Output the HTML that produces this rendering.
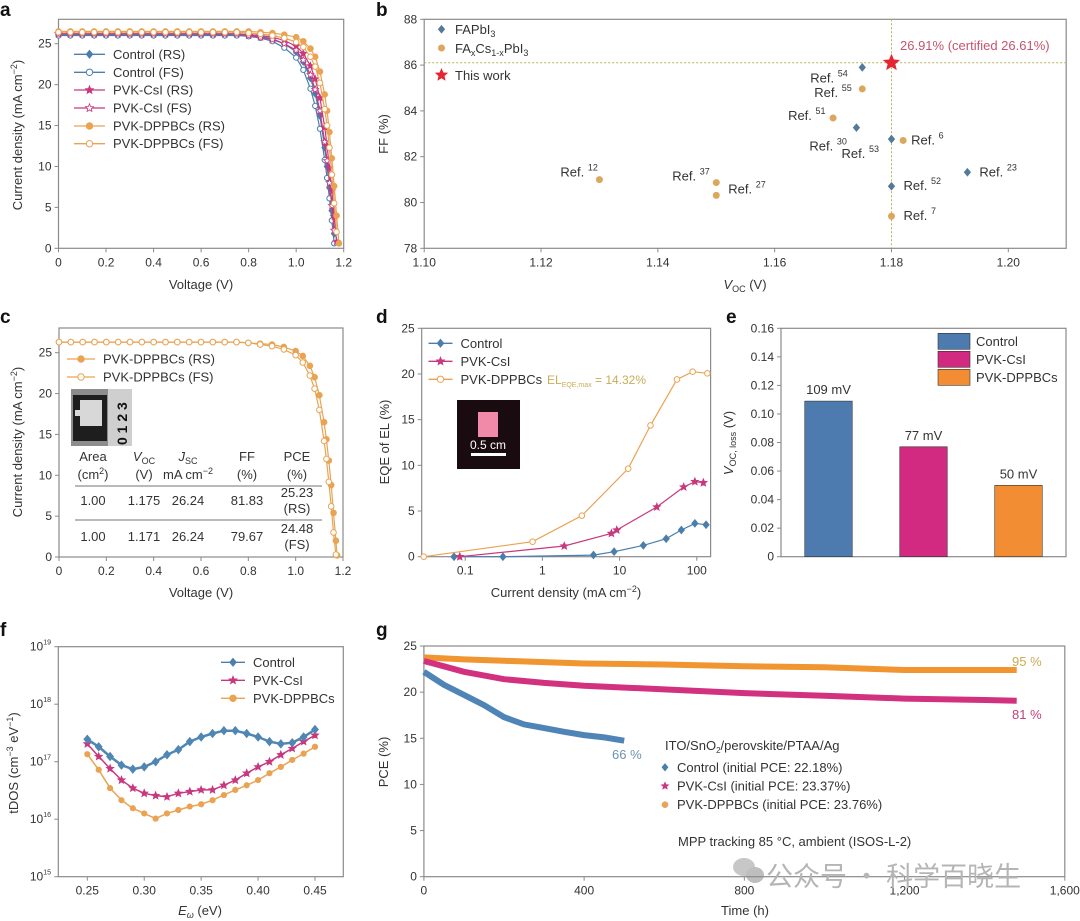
<!DOCTYPE html>
<html><head><meta charset="utf-8">
<style>
html,body{margin:0;padding:0;background:#fff;}
svg{display:block;font-family:"Liberation Sans","Noto Sans CJK SC",sans-serif;}
</style></head>
<body>
<svg id="fig" width="1080" height="921" viewBox="0 0 1080 921" xmlns="http://www.w3.org/2000/svg">
<rect width="1080" height="921" fill="#fff"/>
<g font-weight="bold" font-size="19" fill="#111">
<text x="0" y="16">a</text>
<text x="376" y="16">b</text>
<text x="0" y="323">c</text>
<text x="376" y="323">d</text>
<text x="726" y="323">e</text>
<text x="0" y="636">f</text>
<text x="376" y="636">g</text>
</g>
<g font-size="13" fill="#333">
<text transform="translate(22,135) rotate(-90)" text-anchor="middle">Current density (mA cm<tspan dy="-5" font-size="9">−2</tspan><tspan dy="5">)</tspan></text>
<text x="201" y="289" text-anchor="middle">Voltage (V)</text>
<text transform="translate(388,134) rotate(-90)" text-anchor="middle">FF (%)</text>
<text x="745" y="289" text-anchor="middle"><tspan font-style="italic">V</tspan><tspan font-size="9" dy="3">OC</tspan><tspan dy="-3"> (V)</tspan></text>
<text transform="translate(22,442) rotate(-90)" text-anchor="middle">Current density (mA cm<tspan dy="-5" font-size="9">−2</tspan><tspan dy="5">)</tspan></text>
<text x="201" y="597" text-anchor="middle">Voltage (V)</text>
<text transform="translate(389,442) rotate(-90)" text-anchor="middle">EQE of EL (%)</text>
<text x="566" y="597" text-anchor="middle">Current density (mA cm<tspan dy="-5" font-size="9">−2</tspan><tspan dy="5">)</tspan></text>
<text transform="translate(733,443) rotate(-90)" text-anchor="middle"><tspan font-style="italic">V</tspan><tspan font-size="9" dy="3">OC, loss</tspan><tspan dy="-3"> (V)</tspan></text>
<text transform="translate(18,763) rotate(-90)" text-anchor="middle">tDOS (cm<tspan dy="-5" font-size="9">−3</tspan><tspan dy="5"> eV</tspan><tspan dy="-5" font-size="9">−1</tspan><tspan dy="5">)</tspan></text>
<text x="200" y="915" text-anchor="middle"><tspan font-style="italic">E</tspan><tspan font-size="9" dy="3" font-style="italic">ω</tspan><tspan dy="-3"> (eV)</tspan></text>
<text transform="translate(388,762) rotate(-90)" text-anchor="middle">PCE (%)</text>
<text x="745" y="915" text-anchor="middle">Time (h)</text>
</g>
</svg>
<script>
// ---------- Panel a data ----------
const jvVolt=[0,0.05,0.1,0.15,0.2,0.25,0.3,0.35,0.4,0.45,0.5,0.55,0.6,0.65,0.7,0.75,0.8,0.85,0.9,0.95,1.0,1.03,1.06,1.08,1.10,1.12,1.13,1.14,1.15,1.16,1.17,1.18];
const ctrlRS=[26.1,26.1,26.1,26.1,26.1,26.1,26.1,26.1,26.1,26.1,26.1,26.1,26.1,26.1,26.1,26.1,26.0,25.9,25.6,25.0,24.0,22.8,20.8,18.9,16.2,12.3,10.0,7.4,4.6,1.8,null,null];
const ctrlFS=[26.0,26.0,26.0,26.0,26.0,26.0,26.0,26.0,26.0,26.0,26.0,26.0,26.0,26.0,26.0,26.0,25.9,25.7,25.3,24.5,23.3,21.8,19.5,17.4,14.6,10.8,8.6,6.1,3.4,0.6,null,null];
const csiRS=[26.2,26.2,26.2,26.2,26.2,26.2,26.2,26.2,26.2,26.2,26.2,26.2,26.2,26.2,26.2,26.2,26.1,26.0,25.8,25.4,24.7,23.8,22.3,20.7,18.4,14.8,12.5,9.8,7.0,3.9,0.8,null];
const csiFS=[26.2,26.2,26.2,26.2,26.2,26.2,26.2,26.2,26.2,26.2,26.2,26.2,26.2,26.2,26.2,26.2,26.0,25.8,25.5,25.0,24.2,23.0,21.2,19.4,16.8,13.0,10.7,8.0,5.2,2.2,null,null];
const dppRS=[26.5,26.5,26.5,26.5,26.5,26.5,26.5,26.5,26.5,26.5,26.5,26.5,26.5,26.5,26.5,26.5,26.5,26.4,26.3,26.1,25.8,25.3,24.4,23.4,21.6,18.8,16.8,14.2,11.0,7.6,4.0,0.6];
const dppFS=[26.4,26.4,26.4,26.4,26.4,26.4,26.4,26.4,26.4,26.4,26.4,26.4,26.4,26.4,26.4,26.4,26.3,26.2,26.0,25.7,25.2,24.6,23.4,22.2,20.2,17.0,15.0,12.3,9.0,5.5,2.0,null];
const aXTicks=[0,0.2,0.4,0.6,0.8,1.0,1.2];
const aXLabels=["0","0.2","0.4","0.6","0.8","1.0","1.2"];
const aYTicks=[0,5,10,15,20,25];
// ---------- Panel b data ----------
const refLabels=["54","55","51","30","53","6","23","52","7","12","37","27"];
const refVoc=[1.175,1.175,1.170,1.174,1.180,1.182,1.193,1.180,1.180,1.130,1.150,1.150];
const refFF=[85.90,84.96,83.69,83.27,82.77,82.71,81.32,80.71,79.40,81.00,80.87,80.31];
const refType=["FA","FACs","FACs","FA","FA","FACs","FA","FA","FACs","FACs","FACs","FACs"];
const thisVoc=[1.18];
const thisFF=[86.1];
const bXTicks=[1.10,1.12,1.14,1.16,1.18,1.20];
const bXLabels=["1.10","1.12","1.14","1.16","1.18","1.20"];
const bYTicks=[78,80,82,84,86,88];
// ---------- Panel c data ----------
const cVolt=[0,0.05,0.1,0.15,0.2,0.25,0.3,0.35,0.4,0.45,0.5,0.55,0.6,0.65,0.7,0.75,0.8,0.85,0.9,0.95,1.0,1.03,1.06,1.08,1.10,1.12,1.13,1.14,1.15,1.16,1.17,1.175];
const cRS=[26.3,26.3,26.3,26.3,26.3,26.3,26.3,26.3,26.3,26.3,26.3,26.3,26.3,26.3,26.3,26.3,26.2,26.1,26.0,25.7,25.2,24.6,23.4,22.0,19.8,16.5,14.4,11.8,8.8,5.4,2.0,0.2];
const cFS=[26.3,26.3,26.3,26.3,26.3,26.3,26.3,26.3,26.3,26.3,26.3,26.3,26.3,26.3,26.3,26.3,26.2,26.0,25.8,25.4,24.7,23.8,22.2,20.6,18.0,14.2,12.0,9.2,6.2,3.0,0.3,null];
// ---------- Panel d data ----------
const dCtrlJ=[0.0716,0.308,4.59,8.49,20.3,40.1,63.1,94.4,131.8];
const dCtrlE=[0,0,0.18,0.55,1.24,1.97,2.92,3.65,3.5];
const dCsiJ=[0.085,1.92,7.83,9.2,30.3,67.6,94.4,121.6];
const dCsiE=[0,1.17,2.55,2.92,5.44,7.63,8.21,8.1];
const dDppJ=[0.029,0.745,3.24,12.9,25.1,55.3,88.3,137];
const dDppE=[0,1.64,4.49,9.63,14.37,19.4,20.25,20.07];
const dXTicks=[0.1,1,10,100];
const dXLabels=["0.1","1","10","100"];
const dYTicks=[0,5,10,15,20,25];
// ---------- Panel e data ----------
const eCats=["Control","PVK-CsI","PVK-DPPBCs"];
const eVals=[0.109,0.077,0.050];
const eLabels=["109 mV","77 mV","50 mV"];
const eYTicks=[0,0.02,0.04,0.06,0.08,0.10,0.12,0.14,0.16];
const eYLabels=["0","0.02","0.04","0.06","0.08","0.10","0.12","0.14","0.16"];
// ---------- Panel f data (log10 tDOS) ----------
const fE=[0.25,0.26,0.27,0.28,0.29,0.30,0.31,0.32,0.33,0.34,0.35,0.36,0.37,0.38,0.39,0.40,0.41,0.42,0.43,0.44,0.45];
const fCtrl=[17.39,17.26,17.09,16.94,16.87,16.91,17.0,17.12,17.21,17.35,17.43,17.49,17.54,17.54,17.49,17.43,17.35,17.31,17.33,17.43,17.56];
const fCsi=[17.31,17.09,16.88,16.68,16.54,16.45,16.41,16.39,16.45,16.48,16.51,16.51,16.59,16.68,16.80,16.91,17.0,17.12,17.23,17.35,17.46];
const fDpp=[17.13,16.86,16.54,16.33,16.19,16.10,16.01,16.10,16.16,16.22,16.26,16.33,16.42,16.51,16.59,16.68,16.80,16.91,17.03,17.14,17.26];
const fXTicks=[0.25,0.30,0.35,0.40,0.45];
const fXLabels=["0.25","0.30","0.35","0.40","0.45"];
const fYTicks=[15,16,17,18,19];
// ---------- Panel g data ----------
const gCtrlT=[0,25,50,100,150,200,250,300,350,400,450,500];
const gCtrlP=[22.2,21.5,20.8,19.7,18.6,17.3,16.5,16.1,15.7,15.35,15.1,14.74];
const gCsiT=[0,50,100,200,300,400,600,800,1000,1200,1400,1480];
const gCsiP=[23.37,22.8,22.2,21.4,21.0,20.7,20.3,19.9,19.6,19.3,19.15,19.07];
const gDppT=[0,100,200,400,600,800,1000,1200,1400,1480];
const gDppP=[23.76,23.55,23.4,23.1,23.0,22.8,22.7,22.4,22.4,22.4];
const gXTicks=[0,400,800,1200,1600];
const gXLabels=["0","400","800","1,200","1,600"];
const gYTicks=[0,5,10,15,20,25];

const NS="http://www.w3.org/2000/svg";
const svg=document.getElementById("fig");
function mk(tag,attrs,parent){const e=document.createElementNS(NS,tag);for(const k in attrs)e.setAttribute(k,attrs[k]);(parent||svg).appendChild(e);return e;}
function lin(d0,d1,r0,r1){return v=>r0+(v-d0)/(d1-d0)*(r1-r0);}
const C_CTRL="#4a7fab",C_CSI="#c8387e",C_DPP="#e9a352";
const AX="#8a8a8a",TXT="#333";

function frame(x0,y0,x1,y1,name){
  const r=mk("rect",{x:x0,y:y0,width:x1-x0,height:y1-y0,fill:"none",stroke:AX,"stroke-width":1.2});
  
  
}
function xTicks(vals,labels,sx,yb,prefix){
  vals.forEach((v,i)=>{
    const t=mk("line",{x1:sx(v),x2:sx(v),y1:yb,y2:yb+4,stroke:AX,"stroke-width":1});
    
    
    const l=mk("text",{x:sx(v),y:yb+18,"text-anchor":"middle","font-size":12,fill:TXT});
    l.textContent=labels[i];
    
    
  });
}
function yTicks(vals,labels,sy,xl,prefix){
  vals.forEach((v,i)=>{
    const t=mk("line",{x1:xl-4,x2:xl,y1:sy(v),y2:sy(v),stroke:AX,"stroke-width":1});
    
    
    const l=mk("text",{x:xl-7,y:sy(v)+4,"text-anchor":"end","font-size":12,fill:TXT});
    l.textContent=labels[i];
    
    
  });
}
function starPts(cx,cy,R){let p=[];for(let k=0;k<10;k++){const r=k%2?R*0.45:R;const a=-Math.PI/2+k*Math.PI/5;p.push((cx+r*Math.cos(a)).toFixed(1)+","+(cy+r*Math.sin(a)).toFixed(1));}return p.join(" ");}
function marker(g,type,x,y,r,color,open){
  const fill=open?"#fff":color;
  let m;
  if(type==="circle") m=mk("circle",{cx:x,cy:y,r:r,fill:fill,stroke:color,"stroke-width":1},g);
  else if(type==="diamond") m=mk("polygon",{points:`${x},${y-r*1.2} ${x+r},${y} ${x},${y+r*1.2} ${x-r},${y}`,fill:fill,stroke:color,"stroke-width":1},g);
  else m=mk("polygon",{points:starPts(x,y,r*1.3),fill:fill,stroke:color,"stroke-width":0.8},g);
  return m;
}
function series(xs,ys,sx,sy,color,type,open,r,name,sw){
  const g=mk("g",{});
  
  
  const pts=[];xs.forEach((x,i)=>{if(ys[i]!==null)pts.push(sx(x).toFixed(1)+","+sy(ys[i]).toFixed(1));});
  const pl=mk("polyline",{points:pts.join(" "),fill:"none",stroke:color,"stroke-width":sw||1.2},g);
  
  
  if(type) xs.forEach((x,i)=>{if(ys[i]===null)return;
    const m=marker(g,type,sx(x),sy(ys[i]),r,color,open);
    
    
  });
}
function legendRow(x,y,color,type,open,label,name,lw,fs){
  const g=mk("g",{});
  
  
  const ln=mk("line",{x1:x,x2:x+lw,y1:y,y2:y,stroke:color,"stroke-width":1.3},g);
  
  
  const m=marker(g,type,x+lw/2,y,3.2,color,open);
  
  
  const t=mk("text",{x:x+lw+8,y:y+4.5,"font-size":fs||13,fill:TXT},g);
  t.textContent=label;
  
  
  return t;
}

// ===== Panel a =====
{
const sx=lin(0,1.2,58.5,343.7), sy=lin(0,25,248.3,43.7);
frame(58.5,19.3,343.7,248.3,'a-plot-frame');
xTicks(aXTicks,aXLabels,sx,248.3,'a');
yTicks(aYTicks,aYTicks.map(String),sy,58.5,'a');
series(jvVolt,ctrlRS,sx,sy,C_CTRL,"diamond",false,2.8,'a-control-rs');
series(jvVolt,ctrlFS,sx,sy,C_CTRL,"circle",true,2.6,'a-control-fs');
series(jvVolt,csiRS,sx,sy,C_CSI,"star",false,2.8,'a-csi-rs');
series(jvVolt,csiFS,sx,sy,C_CSI,"star",true,2.8,'a-csi-fs');
series(jvVolt,dppRS,sx,sy,C_DPP,"circle",false,2.8,'a-dppbcs-rs');
series(jvVolt,dppFS,sx,sy,C_DPP,"circle",true,2.8,'a-dppbcs-fs');
const ys=[54.3,72.3,90,108,126,143.7];
const labs=["Control (RS)","Control (FS)","PVK-CsI (RS)","PVK-CsI (FS)","PVK-DPPBCs (RS)","PVK-DPPBCs (FS)"];
const cols=[C_CTRL,C_CTRL,C_CSI,C_CSI,C_DPP,C_DPP];
const typ=["diamond","circle","star","star","circle","circle"];
const op=[false,true,false,true,false,true];
labs.forEach((l,i)=>legendRow(74,ys[i],cols[i],typ[i],op[i],l,'a-legend-entry',31));
}

// ===== Panel b =====
{
const sx=lin(1.10,1.20,424.2,1008.3), sy=lin(78,88,248.3,19.3);
frame(424.2,19.3,1066.2,248.3,'b-plot-frame');
xTicks(bXTicks,bXLabels,sx,248.3,'b');
yTicks(bYTicks,bYTicks.map(String),sy,424.2,'b');
const hl=mk("line",{x1:424.2,x2:1066.2,y1:sy(thisFF[0]),y2:sy(thisFF[0]),stroke:"#b8b35c","stroke-width":1,"stroke-dasharray":"2,2"});


const vl=mk("line",{x1:sx(thisVoc[0]),x2:sx(thisVoc[0]),y1:19.3,y2:248.3,stroke:"#b8b35c","stroke-width":1,"stroke-dasharray":"2,2"});


const lay={"54":[-52,15,"",1],"55":[-48,8,"",1],"51":[-45,2,"",0],"30":[-47,23,"",1],"53":[-50,19,"",1],"6":[8,4,"",1],"23":[12,4,"",1],"52":[12,4,"",1],"7":[12,4,"",1],"12":[-39,-3,"",1],"37":[-44,-2,"",1],"27":[12,-2,"",1]};
const g=mk("g",{});


refLabels.forEach((lab,i)=>{
  const x=sx(refVoc[i]), y=sy(refFF[i]);
  const col=refType[i]==="FA"?"#557a99":"#dba75c";
  const m=marker(g,refType[i]==="FA"?"diamond":"circle",x,y,3,col,false);
  
  
  const o=lay[lab];
  const t=mk("text",{x:x+o[0],y:y+o[1],"font-size":13,fill:TXT},g);
  t.innerHTML='Ref. <tspan font-size="9" dy="-6">'+lab+'</tspan>';
  
  
});
const st=mk("polygon",{points:starPts(sx(thisVoc[0]),sy(thisFF[0]),9),fill:"#e3262f"});


const an=mk("text",{x:900,y:50,"font-size":13,fill:"#c4546b"});
an.textContent="26.91% (certified 26.61%)";


const lg=mk("g",{});


const m1=marker(lg,"diamond",441.5,29.3,3,"#557a99",false);


const t1=mk("text",{x:455,y:34,"font-size":13,fill:TXT},lg);
t1.innerHTML='FAPbI<tspan font-size="9" dy="3">3</tspan>';


const m2=marker(lg,"circle",441.5,48,3,"#dba75c",false);


const t2=mk("text",{x:455,y:53,"font-size":13,fill:TXT},lg);
t2.innerHTML='FA<tspan font-size="9" dy="3">x</tspan><tspan dy="-3">Cs</tspan><tspan font-size="9" dy="3">1-x</tspan><tspan dy="-3">PbI</tspan><tspan font-size="9" dy="3">3</tspan>';


const m3=mk("polygon",{points:starPts(441.5,75,7),fill:"#e3262f"},lg);


const t3=mk("text",{x:455,y:80,"font-size":13,fill:TXT},lg);
t3.textContent="This work";


}

// ===== Panel c =====
{
const sx=lin(0,1.2,59,343), sy=lin(0,25,557,352.7);
frame(59,328,343,557,'c-plot-frame');
xTicks(aXTicks,aXLabels,sx,557,'c');
yTicks(aYTicks,aYTicks.map(String),sy,59,'c');
series(cVolt,cRS,sx,sy,C_DPP,"circle",false,2.8,'c-dppbcs-rs');
series(cVolt,cFS,sx,sy,C_DPP,"circle",true,2.8,'c-dppbcs-fs');
legendRow(67,359,C_DPP,"circle",false,"PVK-DPPBCs (RS)",'c-legend-entry',28);
legendRow(67,377,C_DPP,"circle",true,"PVK-DPPBCs (FS)",'c-legend-entry',28);
const ph=mk("g",{});


mk("rect",{x:71,y:389,width:61,height:57,fill:"#8d8d8d"},ph);
mk("rect",{x:73,y:395,width:34,height:46,fill:"#1e1e1e"},ph);
mk("rect",{x:80,y:400,width:22,height:26,fill:"#d8d8d8"},ph);
mk("rect",{x:75,y:410,width:6,height:6,fill:"#d8d8d8"},ph);
mk("rect",{x:108,y:389,width:24,height:57,fill:"#cfcfcf"},ph);
const rt=mk("text",{transform:"translate(127,445) rotate(-90)","font-size":14,fill:"#111","font-weight":"bold"},ph);
rt.textContent="0 1 2 3";


const tb=mk("g",{"font-size":13,fill:TXT,"text-anchor":"middle"});


const cols=[93,144,188,247,297];
const h1=["Area","<tspan font-style='italic'>V</tspan><tspan font-size='9' dy='3'>OC</tspan>","<tspan font-style='italic'>J</tspan><tspan font-size='9' dy='3'>SC</tspan>","FF","PCE"];
const h2=["(cm<tspan font-size='9' dy='-5'>2</tspan><tspan dy='5'>)</tspan>","(V)","mA cm<tspan font-size='9' dy='-5'>−2</tspan>","(%)","(%)"];
const r1=["1.00","1.175","26.24","81.83"],r2=["1.00","1.171","26.24","79.67"];
cols.forEach((cx,i)=>{
  const a=mk("text",{x:cx,y:461},tb);a.innerHTML=h1[i];
  
  
  const b=mk("text",{x:cx,y:479},tb);b.innerHTML=h2[i];
  
  
  if(i<4){
    const c=mk("text",{x:cx,y:505},tb);c.textContent=r1[i];
    
    
    const d=mk("text",{x:cx,y:541},tb);d.textContent=r2[i];
    
    
  }
});
[["25.23",497],["(RS)",513],["24.48",533],["(FS)",549]].forEach(p=>{
  const t=mk("text",{x:297,y:p[1]},tb);t.textContent=p[0];
  
  
});
[486,520].forEach(y=>{
  const l=mk("line",{x1:75,x2:322,y1:y,y2:y,stroke:"#444","stroke-width":0.8},tb);
  
  
});
}

// ===== Panel d =====
{
const sx=v=>542.4+Math.log10(v)*77.2, sy=lin(0,25,556.7,328.3);
frame(421.7,328.3,710.6,556.7,'d-plot-frame');
xTicks(dXTicks,dXLabels,sx,556.7,'d');
yTicks(dYTicks,dYTicks.map(String),sy,421.7,'d');
series(dCtrlJ,dCtrlE,sx,sy,C_CTRL,"diamond",false,3,'d-control');
series(dCsiJ,dCsiE,sx,sy,C_CSI,"star",false,3,'d-csi');
series(dDppJ,dDppE,sx,sy,C_DPP,"circle",true,2.8,'d-dppbcs');
legendRow(428.5,343.3,C_CTRL,"diamond",false,"Control",'d-legend-entry',24);
legendRow(428.5,361.3,C_CSI,"star",false,"PVK-CsI",'d-legend-entry',24);
legendRow(428.5,379.3,C_DPP,"circle",true,"PVK-DPPBCs",'d-legend-entry',24);
const el=mk("text",{x:547,y:384,"font-size":12,fill:"#cbab55"});
el.innerHTML='EL<tspan font-size="7" dy="3">EQE,max</tspan><tspan dy="-3"> = 14.32%</tspan>';


const ph=mk("g",{});


mk("rect",{x:457,y:400,width:63,height:69,fill:"#1a0b10"},ph);
mk("rect",{x:478,y:412,width:20,height:25,fill:"#f08aa8"},ph);
const pt=mk("text",{x:488,y:449,"font-size":12,fill:"#fff","text-anchor":"middle"},ph);
pt.textContent="0.5 cm";


mk("rect",{x:471,y:453,width:35,height:3,fill:"#fff"},ph);
}

// ===== Panel e =====
{
const x0=781,x1=1066, sy=lin(0,0.16,556.7,328.3);
frame(x0,328.3,x1,556.7,'e-plot-frame');
yTicks(eYTicks,eYLabels,sy,x0,'e');
const band=(x1-x0)/eCats.length, bw=band*0.5;
const cols=["#4d7bb0","#d22a80","#f38d33"];
eCats.forEach((c,i)=>{
  const cx=x0+band*(i+0.5);
  const b=mk("rect",{x:cx-bw/2,y:sy(eVals[i]),width:bw,height:sy(0)-sy(eVals[i]),fill:cols[i],stroke:"#333","stroke-width":0.6});
  
  
  const t=mk("text",{x:cx,y:sy(eVals[i])-7,"text-anchor":"middle","font-size":13,fill:TXT});
  t.textContent=eLabels[i];
  
  
  const sw=mk("rect",{x:938,y:333.3+i*18,width:32,height:16,fill:cols[i],stroke:"#333","stroke-width":0.6});
  
  
  const lt=mk("text",{x:976,y:346+i*18,"font-size":13,fill:TXT});
  lt.textContent=c;
  
  
});
}

// ===== Panel f =====
{
const sx=lin(0.25,0.45,87.3,315), sy=l=>876.7-(l-15)*57.5;
frame(58.3,646.7,343.3,876.7,'f-plot-frame');
xTicks(fXTicks,fXLabels,sx,876.7,'f');
fYTicks.forEach(v=>{
  const t=mk("line",{x1:54.3,x2:58.3,y1:sy(v),y2:sy(v),stroke:AX});
  
  
  const l=mk("text",{x:51,y:sy(v)+4,"text-anchor":"end","font-size":12,fill:TXT});
  l.innerHTML='10<tspan font-size="7" dy="-6">'+v+'</tspan>';
  
  
});
series(fE,fDpp,sx,sy,C_DPP,"circle",false,2.6,'f-dppbcs',1.5);
series(fE,fCsi,sx,sy,C_CSI,"star",false,3,'f-csi',1.5);
series(fE,fCtrl,sx,sy,"#4f86b3","diamond",false,3.3,'f-control',2.5);
legendRow(221,662.3,C_CTRL,"diamond",false,"Control",'f-legend-entry',24);
legendRow(221,680.3,C_CSI,"star",false,"PVK-CsI",'f-legend-entry',24);
legendRow(221,698.3,C_DPP,"circle",false,"PVK-DPPBCs",'f-legend-entry',24);
}

// ===== Panel g =====
{
const sx=lin(0,1600,423.9,1064.8), sy=lin(0,25,876.7,646);
frame(423.9,646,1064.8,876.7,'g-plot-frame');
xTicks(gXTicks,gXLabels,sx,876.7,'g');
yTicks(gYTicks,gYTicks.map(String),sy,423.9,'g');
series(gDppT,gDppP,sx,sy,"#f0952f",null,false,0,'g-dppbcs',6);
series(gCsiT,gCsiP,sx,sy,"#d2317f",null,false,0,'g-csi',6);
series(gCtrlT,gCtrlP,sx,sy,"#4f85b6",null,false,0,'g-control',6);
const ann=[["66 %",612,759,"#6a93b3"],["95 %",1012,666,"#cbab55"],["81 %",1012,719,"#c0407a"]];
ann.forEach(a=>{
  const t=mk("text",{x:a[1],y:a[2],"font-size":13,fill:a[3]});
  t.textContent=a[0];
  
  
});
const hd=mk("text",{x:665,y:750,"font-size":13,fill:TXT});
hd.innerHTML='ITO/SnO<tspan font-size="8" dy="3">2</tspan><tspan dy="-3">/perovskite/PTAA/Ag</tspan>';


const rows=[["diamond",C_CTRL,"Control (initial PCE: 22.18%)"],["star",C_CSI,"PVK-CsI (initial PCE: 23.37%)"],["circle",C_DPP,"PVK-DPPBCs (initial PCE: 23.76%)"]];
rows.forEach((r,i)=>{
  const g=mk("g",{});
  
  
  marker(g,r[0],665,767.3+i*18.7,2.8,r[1],false);
  const t=mk("text",{x:677,y:771.8+i*18.7,"font-size":13,fill:TXT},g);
  t.textContent=r[2];
  
  
});
const mp=mk("text",{x:678,y:846,"font-size":13,fill:TXT});
mp.textContent="MPP tracking 85 °C, ambient (ISOS-L-2)";


const wi=mk("g",{opacity:0.55});


mk("ellipse",{cx:744,cy:867,rx:11,ry:9,fill:"#9a9a9a"},wi);
mk("ellipse",{cx:755,cy:875,rx:9,ry:8,fill:"#8a8a8a"},wi);
const wm=mk("text",{x:766,y:886,"font-size":27,fill:"#b5b5b5","font-family":"'Noto Sans CJK SC',sans-serif"});
wm.textContent="公众号 · 科学百晓生";


}
</script>
</body></html>
